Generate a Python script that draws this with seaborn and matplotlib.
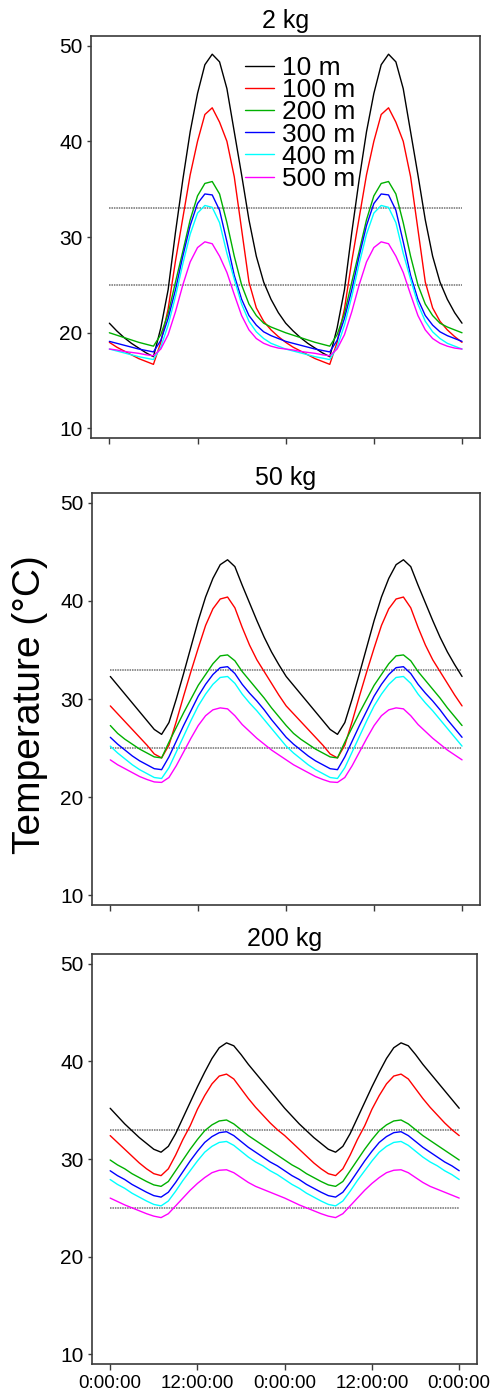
import numpy as np
import pandas as pd
import matplotlib
matplotlib.use("Agg")
import matplotlib.pyplot as plt
import seaborn as sns

# ---------------- data (one day, hourly 0..24 h; second day repeats) -------------
hours_day = list(range(25))
depths = ["10 m", "100 m", "200 m", "300 m", "400 m", "500 m"]
colors = ["#000000", "#ff0000", "#00b000", "#0000ff", "#00ffff", "#ff00ff"]
masses = ["2 kg", "50 kg", "200 kg"]
thresholds = [25, 33]
xtick_hours = [0, 12, 24, 36, 48]
xtick_labels = ["0:00:00", "12:00:00", "0:00:00", "12:00:00", "0:00:00"]
ytick_values = [10, 20, 30, 40, 50]

# 2 kg
kg2_10m = [21.0, 20.2, 19.5, 18.9, 18.4, 17.9, 17.5, 20.5, 24.5, 30.5, 36.0, 41.0, 45.0,
           48.0, 49.1, 48.3, 45.5, 41.0, 36.5, 31.8, 28.0, 25.3, 23.5, 22.1, 21.0]
kg2_100m = [19.0, 18.5, 18.1, 17.7, 17.3, 17.0, 16.7, 19.0, 22.5, 27.5, 32.0, 36.5, 40.0,
            42.8, 43.5, 42.0, 40.0, 36.3, 30.8, 25.3, 22.6, 21.2, 20.3, 19.6, 19.0]
kg2_200m = [20.0, 19.75, 19.5, 19.25, 19.0, 18.8, 18.6, 19.8, 22.0, 25.3, 28.5, 31.8, 34.3,
            35.6, 35.8, 34.5, 31.5, 28.0, 25.0, 23.0, 21.8, 21.0, 20.6, 20.3, 20.0]
kg2_300m = [19.1, 18.9, 18.7, 18.5, 18.3, 18.15, 18.0, 19.2, 21.5, 24.5, 28.0, 31.2, 33.5,
            34.5, 34.4, 32.8, 29.5, 26.0, 23.5, 21.8, 20.8, 20.1, 19.7, 19.4, 19.1]
kg2_400m = [18.3, 18.1, 17.9, 17.7, 17.5, 17.35, 17.2, 18.5, 20.8, 23.8, 27.2, 30.3, 32.5,
            33.3, 33.1, 31.5, 28.3, 25.6, 23.0, 21.2, 20.1, 19.4, 18.9, 18.6, 18.3]
kg2_500m = [18.3, 18.2, 18.05, 17.95, 17.85, 17.7, 17.6, 18.3, 19.8, 22.2, 25.0, 27.4, 28.9,
            29.5, 29.3, 28.0, 26.3, 24.0, 21.8, 20.3, 19.4, 18.9, 18.6, 18.4, 18.3]

# 50 kg
kg50_10m = [32.3, 31.4, 30.5, 29.6, 28.7, 27.8, 26.9, 26.4, 27.6, 30.0, 32.6, 35.3, 38.0,
            40.4, 42.3, 43.7, 44.2, 43.5, 41.6, 39.8, 38.0, 36.3, 34.8, 33.5, 32.3]
kg50_100m = [29.3, 28.5, 27.7, 26.9, 26.1, 25.3, 24.4, 24.0, 25.3, 27.7, 30.3, 32.8, 35.2,
             37.5, 39.2, 40.2, 40.4, 39.3, 37.3, 35.5, 34.0, 32.8, 31.6, 30.4, 29.3]
kg50_200m = [27.3, 26.5, 25.9, 25.4, 24.9, 24.5, 24.1, 24.0, 25.6, 27.1, 28.6, 30.0, 31.4,
             32.5, 33.6, 34.4, 34.5, 33.9, 32.8, 31.9, 31.0, 30.1, 29.1, 28.2, 27.3]
kg50_300m = [26.1, 25.4, 24.8, 24.2, 23.7, 23.3, 22.9, 22.8, 24.1, 25.7, 27.3, 28.8, 30.3,
             31.5, 32.5, 33.2, 33.3, 32.6, 31.5, 30.6, 29.8, 28.9, 27.9, 27.0, 26.1]
kg50_400m = [25.2, 24.5, 23.9, 23.3, 22.8, 22.4, 22.0, 21.9, 23.0, 24.6, 26.2, 27.8, 29.3,
             30.5, 31.5, 32.2, 32.3, 31.6, 30.5, 29.6, 28.8, 27.9, 27.0, 26.1, 25.2]
kg50_500m = [23.8, 23.3, 22.9, 22.5, 22.1, 21.8, 21.55, 21.5, 22.0, 23.2, 24.6, 26.0, 27.3,
             28.3, 28.9, 29.1, 29.0, 28.3, 27.4, 26.7, 26.0, 25.4, 24.8, 24.3, 23.8]

# 200 kg
kg200_10m = [35.2, 34.4, 33.6, 32.9, 32.2, 31.6, 31.0, 30.7, 31.3, 32.6, 34.2, 35.8, 37.4,
             38.9, 40.3, 41.4, 41.9, 41.6, 40.7, 39.7, 38.8, 37.9, 37.0, 36.1, 35.2]
kg200_100m = [32.4, 31.7, 31.0, 30.3, 29.6, 29.0, 28.5, 28.3, 29.0, 30.4, 32.0, 33.4, 35.1,
              36.5, 37.7, 38.5, 38.7, 38.2, 37.2, 36.2, 35.3, 34.5, 33.7, 33.0, 32.4]
kg200_200m = [29.9, 29.4, 29.0, 28.5, 28.1, 27.7, 27.35, 27.2, 27.7, 28.8, 29.9, 31.0, 32.0,
              32.9, 33.5, 33.9, 34.0, 33.6, 33.0, 32.4, 31.9, 31.4, 30.9, 30.4, 29.9]
kg200_300m = [28.8, 28.3, 27.9, 27.4, 27.0, 26.6, 26.25, 26.1, 26.6, 27.6, 28.7, 29.8, 30.8,
              31.7, 32.3, 32.7, 32.8, 32.4, 31.8, 31.2, 30.7, 30.2, 29.7, 29.3, 28.8]
kg200_400m = [27.9, 27.4, 27.0, 26.5, 26.1, 25.7, 25.35, 25.2, 25.7, 26.7, 27.8, 28.8, 29.8,
              30.7, 31.3, 31.7, 31.8, 31.4, 30.8, 30.2, 29.7, 29.3, 28.8, 28.4, 27.9]
kg200_500m = [26.0, 25.65, 25.3, 25.0, 24.7, 24.4, 24.15, 24.0, 24.4, 25.2, 26.0, 26.8, 27.5,
              28.1, 28.6, 28.85, 28.9, 28.6, 28.1, 27.6, 27.2, 26.9, 26.6, 26.3, 26.0]

panel_series = {
    "2 kg": [kg2_10m, kg2_100m, kg2_200m, kg2_300m, kg2_400m, kg2_500m],
    "50 kg": [kg50_10m, kg50_100m, kg50_200m, kg50_300m, kg50_400m, kg50_500m],
    "200 kg": [kg200_10m, kg200_100m, kg200_200m, kg200_300m, kg200_400m, kg200_500m],
}

# two consecutive identical days
hours = hours_day + [h + 24 for h in hours_day[1:]]

rows = []
for mass in masses:
    for depth, vals in zip(depths, panel_series[mass]):
        full = vals + vals[1:]
        for h, v in zip(hours, full):
            rows.append({"mass": mass, "depth": depth, "hour": h, "temp": v})
df = pd.DataFrame(rows)

# ---------------- styling -------------
sns.set_theme(style="white")
plt.rcParams["font.family"] = ["Liberation Sans", "DejaVu Sans"]
plt.rcParams["text.color"] = "black"
plt.rcParams["xtick.labelcolor"] = "black"
plt.rcParams["ytick.labelcolor"] = "black"

fig = plt.figure(figsize=(4.97, 13.96), dpi=100)
positions = [
    [0.1831, 0.6862, 0.7827, 0.2880],
    [0.1851, 0.3517, 0.7807, 0.2951],
    [0.1851, 0.0229, 0.7747, 0.2937],
]
palette = dict(zip(depths, colors))
spine_col = "#3a3a3a"

for i, (mass, pos) in enumerate(zip(masses, positions)):
    ax = fig.add_axes(pos)
    sub = df[df["mass"] == mass]
    sns.lineplot(data=sub, x="hour", y="temp", hue="depth", hue_order=depths,
                 palette=palette, linewidth=1.0, ax=ax, legend=(i == 0),
                 estimator=None, sort=False)
    ax.hlines(thresholds, hours[0], hours[-1], colors="#707070",
              linestyles=(0, (1, 0.6)), linewidth=1.1, zorder=1)
    ax.set_xlim(-2.5, 50.45)
    ax.set_ylim(9.0, 51.0)
    ax.set_yticks(ytick_values)
    ax.set_xticks(xtick_hours)
    if i == 2:
        ax.set_xticklabels(xtick_labels, fontsize=13.5)
    else:
        ax.set_xticklabels([])
    ax.tick_params(axis="y", labelsize=15, length=3, width=1.0, direction="out",
                   color=spine_col, pad=3, left=True)
    ax.tick_params(axis="x", length=4, width=1.0, direction="out",
                   color=spine_col, pad=4, bottom=True)
    ax.set_xlabel("")
    ax.set_ylabel("")
    ax.set_title(mass, fontsize=18, pad=6, color="black")
    for s in ax.spines.values():
        s.set_color(spine_col)
        s.set_linewidth(1.2)
    if i == 0:
        leg = ax.legend(loc="upper left", bbox_to_anchor=(0.395, 0.95),
                        frameon=False, fontsize=19, handlelength=1.1,
                        handletextpad=0.3, labelspacing=-0.07, borderpad=0,
                        borderaxespad=0)
        for line in leg.get_lines():
            line.set_linewidth(1.0)
        for t in leg.get_texts():
            t.set_color("black")

fig.text(0.06, 0.495, "Temperature (°C)", rotation=90, fontsize=28,
         ha="center", va="center", color="black")

fig.savefig("out.png", dpi=100)
